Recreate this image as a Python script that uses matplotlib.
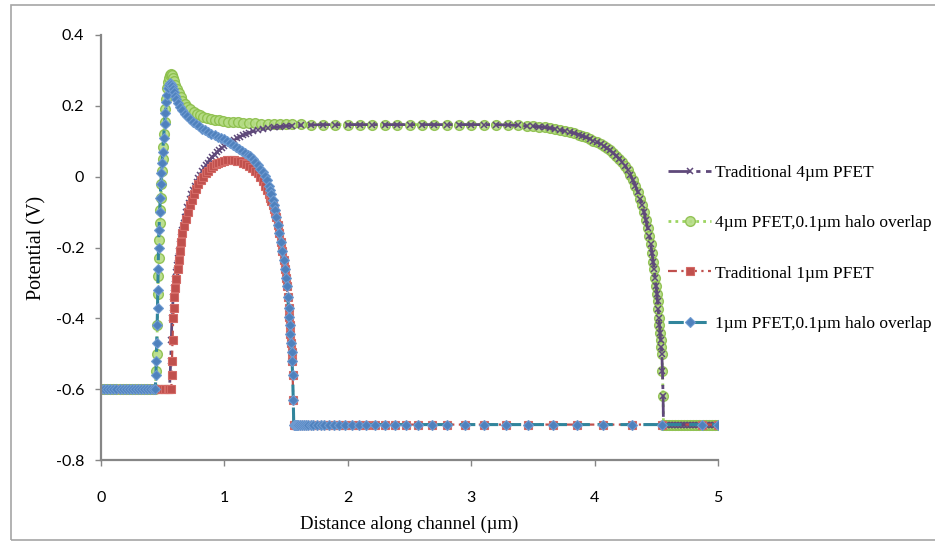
"""Potential along the channel for traditional and halo-overlap PFETs."""

import matplotlib

matplotlib.use("Agg")
import matplotlib.pyplot as plt
from matplotlib.patches import Rectangle

# ---- data ------------------------------------------------------------------
# flat source region at -0.6 V (shared x positions)
flat_x = [0.000, 0.025, 0.050, 0.075, 0.100, 0.125, 0.150, 0.175, 0.200, 0.225, 0.250, 0.275,
          0.300, 0.325, 0.350, 0.375, 0.400, 0.420, 0.440]
flat_y = [-0.60] * len(flat_x)

# Traditional 4um PFET: rise out of the source
trad4_head_x = [0.460, 0.480, 0.500, 0.520, 0.540, 0.555, 0.565, 0.570, 0.575, 0.580, 0.585, 0.592,
                0.600, 0.607, 0.615, 0.622, 0.630, 0.640, 0.650, 0.660, 0.670, 0.680, 0.690, 0.700,
                0.710, 0.720, 0.730, 0.745, 0.760, 0.775, 0.790, 0.805, 0.820, 0.835, 0.850, 0.865,
                0.880, 0.900, 0.920, 0.940, 0.960, 0.980, 1.000, 1.025, 1.050, 1.075, 1.100, 1.125,
                1.150, 1.175, 1.200, 1.235, 1.270, 1.310, 1.350, 1.400, 1.450, 1.500, 1.550, 1.620, 1.700]
trad4_head_y = [-0.600, -0.600, -0.600, -0.600, -0.600, -0.600, -0.520, -0.460, -0.400, -0.370, -0.340, -0.315,
                -0.290, -0.270, -0.250, -0.230, -0.210, -0.190, -0.170, -0.150, -0.130, -0.115, -0.100, -0.087,
                -0.075, -0.062, -0.050, -0.037, -0.025, -0.014, -0.005, 0.005, 0.015, 0.024, 0.033, 0.040,
                0.047, 0.055, 0.062, 0.069, 0.076, 0.081, 0.086, 0.092, 0.097, 0.103, 0.108, 0.113,
                0.117, 0.121, 0.124, 0.128, 0.131, 0.134, 0.137, 0.139, 0.141, 0.143, 0.144, 0.145, 0.146]

# 4um PFET with halo overlap: spike at the source junction
halo4_head_x = [0.448, 0.452, 0.456, 0.460, 0.463, 0.466, 0.470, 0.475, 0.480, 0.485, 0.490, 0.495,
                0.500, 0.505, 0.510, 0.515, 0.520, 0.527, 0.535, 0.542, 0.550, 0.557, 0.565, 0.572,
                0.580, 0.590, 0.600, 0.615, 0.630, 0.645, 0.660, 0.680, 0.700, 0.725, 0.750, 0.775,
                0.800, 0.830, 0.860, 0.890, 0.920, 0.955, 0.990, 1.030, 1.070, 1.110, 1.150, 1.200,
                1.250, 1.300, 1.350, 1.400, 1.450, 1.500, 1.550, 1.620, 1.700]
halo4_head_y = [-0.550, -0.500, -0.420, -0.330, -0.280, -0.230, -0.180, -0.130, -0.095, -0.060, -0.020, 0.015,
                0.050, 0.085, 0.120, 0.155, 0.190, 0.220, 0.250, 0.268, 0.280, 0.287, 0.290, 0.287,
                0.280, 0.270, 0.260, 0.247, 0.235, 0.224, 0.215, 0.206, 0.198, 0.190, 0.183, 0.178,
                0.173, 0.169, 0.166, 0.163, 0.161, 0.159, 0.157, 0.155, 0.154, 0.153, 0.152, 0.151,
                0.151, 0.150, 0.150, 0.149, 0.149, 0.148, 0.148, 0.148, 0.147]

# shared plateau and drain-side fall of both 4um devices
tail4_x = [1.80, 1.90, 2.00, 2.10, 2.20, 2.30, 2.40, 2.50, 2.60, 2.70, 2.80, 2.90, 3.00, 3.10, 3.20,
           3.30, 3.38, 3.45, 3.50, 3.55, 3.60, 3.64, 3.68, 3.72, 3.76, 3.80, 3.835, 3.87, 3.90, 3.93,
           3.96, 3.99, 4.02, 4.05, 4.075, 4.10, 4.125, 4.15, 4.175, 4.20, 4.225, 4.25, 4.27, 4.29,
           4.31, 4.33, 4.35, 4.37, 4.385, 4.40, 4.415, 4.43, 4.443, 4.455, 4.465, 4.475, 4.483, 4.49,
           4.498, 4.505, 4.51, 4.515, 4.52, 4.525, 4.53, 4.535, 4.54, 4.545, 4.55, 4.555, 4.558,
           4.575, 4.60, 4.625, 4.65, 4.675, 4.70, 4.725, 4.75, 4.775, 4.80, 4.825, 4.85, 4.875,
           4.90, 4.925, 4.95, 4.975, 5.00]
tail4_y = [0.147, 0.147, 0.147, 0.147, 0.147, 0.147, 0.147, 0.147, 0.147, 0.147, 0.147, 0.147, 0.147, 0.147, 0.147,
           0.146, 0.145, 0.143, 0.142, 0.141, 0.139, 0.137, 0.135, 0.132, 0.129, 0.126, 0.123, 0.119, 0.115, 0.111,
           0.107, 0.102, 0.097, 0.092, 0.086, 0.080, 0.074, 0.067, 0.059, 0.051, 0.041, 0.030, 0.018, 0.005,
           -0.010, -0.025, -0.043, -0.062, -0.080, -0.100, -0.122, -0.145, -0.167, -0.190, -0.215, -0.240, -0.262, -0.285,
           -0.308, -0.330, -0.352, -0.375, -0.398, -0.420, -0.440, -0.460, -0.480, -0.500, -0.550, -0.620, -0.700,
           -0.700, -0.700, -0.700, -0.700, -0.700, -0.700, -0.700, -0.700, -0.700, -0.700, -0.700, -0.700, -0.700,
           -0.700, -0.700, -0.700, -0.700, -0.700]

# Traditional 1um PFET: rise and low hump
trad1_head_x = [0.460, 0.480, 0.500, 0.520, 0.540, 0.555, 0.570, 0.573, 0.575, 0.580, 0.585, 0.590,
                0.595, 0.602, 0.610, 0.620, 0.630, 0.640, 0.650, 0.660, 0.675, 0.690, 0.705, 0.720,
                0.735, 0.750, 0.770, 0.790, 0.810, 0.830, 0.850, 0.870, 0.890, 0.910, 0.930, 0.950,
                0.975, 1.000, 1.025, 1.050, 1.075, 1.100, 1.125, 1.150, 1.175, 1.200, 1.225, 1.250,
                1.270, 1.290, 1.310, 1.330, 1.345, 1.360, 1.370, 1.380, 1.390, 1.400, 1.410]
trad1_head_y = [-0.600, -0.600, -0.600, -0.600, -0.600, -0.600, -0.600, -0.560, -0.520, -0.460, -0.400, -0.370,
                -0.340, -0.315, -0.290, -0.260, -0.235, -0.210, -0.185, -0.160, -0.140, -0.120, -0.100, -0.080,
                -0.065, -0.050, -0.035, -0.020, -0.009, 0.000, 0.009, 0.017, 0.024, 0.030, 0.035, 0.039,
                0.042, 0.045, 0.046, 0.047, 0.046, 0.045, 0.043, 0.040, 0.036, 0.031, 0.025, 0.017,
                0.009, 0.000, -0.012, -0.025, -0.037, -0.050, -0.060, -0.070, -0.080, -0.090, -0.102]

# 1um PFET with halo overlap: spike then monotonic fall
halo1_head_x = [0.445, 0.448, 0.452, 0.455, 0.458, 0.460, 0.463, 0.466, 0.470, 0.475, 0.480, 0.485,
                0.490, 0.495, 0.500, 0.507, 0.515, 0.522, 0.530, 0.537, 0.545, 0.552, 0.560, 0.567,
                0.575, 0.582, 0.590, 0.600, 0.610, 0.625, 0.640, 0.660, 0.680, 0.700, 0.720, 0.745,
                0.770, 0.795, 0.820, 0.845, 0.870, 0.895, 0.920, 0.945, 0.970, 0.995, 1.020, 1.045,
                1.070, 1.095, 1.120, 1.145, 1.170, 1.190, 1.210, 1.230, 1.250, 1.270, 1.290, 1.310,
                1.330, 1.345, 1.360, 1.370, 1.380, 1.390, 1.400, 1.410]
halo1_head_y = [-0.560, -0.520, -0.470, -0.420, -0.370, -0.320, -0.260, -0.200, -0.150, -0.100, -0.060, -0.020,
                0.010, 0.040, 0.070, 0.110, 0.150, 0.180, 0.210, 0.232, 0.250, 0.260, 0.265, 0.262,
                0.255, 0.247, 0.238, 0.229, 0.220, 0.209, 0.198, 0.188, 0.178, 0.170, 0.163, 0.155,
                0.148, 0.142, 0.136, 0.131, 0.126, 0.121, 0.117, 0.113, 0.109, 0.105, 0.100, 0.095,
                0.090, 0.085, 0.079, 0.073, 0.066, 0.062, 0.058, 0.050, 0.042, 0.033, 0.023, 0.013,
                0.002, -0.010, -0.025, -0.038, -0.050, -0.065, -0.080, -0.095]

# shared drain-side fall and flat -0.7 V region of both 1um devices
tail1_x = [1.420, 1.432, 1.445, 1.457, 1.470, 1.480, 1.490, 1.498, 1.505, 1.513, 1.520, 1.525,
           1.530, 1.535, 1.540, 1.544, 1.548, 1.553, 1.558, 1.562, 1.57, 1.58, 1.59, 1.60, 1.615,
           1.63, 1.645, 1.66, 1.68, 1.70, 1.72, 1.75, 1.78, 1.81, 1.85, 1.89, 1.93, 1.98, 2.03,
           2.09, 2.15, 2.22, 2.30, 2.38, 2.47, 2.57, 2.68, 2.80, 2.95, 3.10, 3.28, 3.46, 3.66,
           3.86, 4.07, 4.30, 4.55, 4.87, 5.00]
tail1_y = [-0.115, -0.137, -0.160, -0.185, -0.210, -0.235, -0.260, -0.285, -0.310, -0.340, -0.370, -0.395,
           -0.420, -0.445, -0.470, -0.495, -0.520, -0.560, -0.630, -0.700, -0.70, -0.70, -0.70, -0.70, -0.70,
           -0.70, -0.70, -0.70, -0.70, -0.70, -0.70, -0.70, -0.70, -0.70, -0.70, -0.70, -0.70, -0.70, -0.70,
           -0.70, -0.70, -0.70, -0.70, -0.70, -0.70, -0.70, -0.70, -0.70, -0.70, -0.70, -0.70, -0.70, -0.70,
           -0.70, -0.70, -0.70, -0.70, -0.70, -0.70]

labels = ["Traditional 4µm PFET", "4µm PFET,0.1µm halo overlap",
          "Traditional 1µm PFET", "1µm PFET,0.1µm halo overlap"]
x_ticks = [0, 1, 2, 3, 4, 5]
y_ticks = [-0.8, -0.6, -0.4, -0.2, 0, 0.2, 0.4]
y_tick_labels = ["-0.8", "-0.6", "-0.4", "-0.2", "0", "0.2", "0.4"]

series = [
    (flat_x + trad4_head_x + tail4_x, flat_y + trad4_head_y + tail4_y),
    (flat_x + halo4_head_x + tail4_x, flat_y + halo4_head_y + tail4_y),
    (flat_x + trad1_head_x + tail1_x, flat_y + trad1_head_y + tail1_y),
    (flat_x + halo1_head_x + tail1_x, flat_y + halo1_head_y + tail1_y),
]

# ---- figure ------------------------------------------------------------------
fig = plt.figure(figsize=(9.35, 5.41), dpi=100)
fig.patches.append(Rectangle((11 / 935, 1 / 541), 1.0, 535 / 541, transform=fig.transFigure,
                             fill=False, edgecolor="#a6a6a6", linewidth=1.2, clip_on=False))
ax = fig.add_axes([101 / 935, 81 / 541, 617 / 935, 425 / 541])

ax.plot(*series[0], color="#5f497a", linewidth=2.0, linestyle=(0, (8, 2, 1.5, 2)),
        marker="x", markersize=5, markeredgewidth=1.1, markeredgecolor="#5f497a",
        label=labels[0], zorder=2.1)
ax.plot(*series[1], color="#92d050", linewidth=2.0, linestyle=(0, (1, 1.5)),
        marker="o", markersize=7, markerfacecolor="#b5dc85", markeredgecolor="#8cbf4a",
        markeredgewidth=1.0, alpha=0.9, label=labels[1], zorder=2.0)
ax.plot(*series[2], color="#c0504d", linewidth=1.6, linestyle=(0, (4, 2, 1, 2)),
        marker="s", markersize=5.5, markerfacecolor="#c0504d", markeredgecolor="#d46a66",
        markeredgewidth=0.8, label=labels[2], zorder=2.2)
ax.plot(*series[3], color="#31859c", linewidth=2.2, linestyle=(0, (5, 2.5)),
        marker="D", markersize=5.5, markerfacecolor="#4f81bd", markeredgecolor="#6f9bd1",
        markeredgewidth=0.8, label=labels[3], zorder=2.3)

ax.set_xlim(0, 5)
ax.set_ylim(-0.8, 0.4)
ax.set_xticks(x_ticks)
ax.set_yticks(y_ticks)
ax.set_yticklabels(y_tick_labels)
for side in ("top", "right"):
    ax.spines[side].set_visible(False)
for side in ("left", "bottom"):
    ax.spines[side].set_color("#868686")
    ax.spines[side].set_linewidth(1.6)
ax.tick_params(axis="both", colors="#868686", length=4, width=1.0, labelcolor="black",
               labelsize=11.5)
ax.tick_params(axis="x", pad=18)
ax.tick_params(axis="y", pad=8)
for lbl in ax.get_xticklabels() + ax.get_yticklabels():
    lbl.set_fontfamily("Lato")

ax.set_xlabel("Distance along channel (µm)", fontfamily="Liberation Serif", fontsize=13.5)
ax.set_ylabel("Potential (V)", fontfamily="Liberation Serif", fontsize=14.5)
ax.xaxis.set_label_coords(0.5, -0.132)
ax.yaxis.set_label_coords(-0.089, 0.5)

fig.legend(loc="upper left", bbox_to_anchor=(668 / 935, (541 - 165) / 541), frameon=False,
           prop={"family": "Liberation Serif", "size": 12.5}, handlelength=2.5, handletextpad=0.2,
           labelspacing=1.96, borderaxespad=0, borderpad=0, numpoints=1)

fig.savefig("out.png", dpi=100)
plt.close(fig)
